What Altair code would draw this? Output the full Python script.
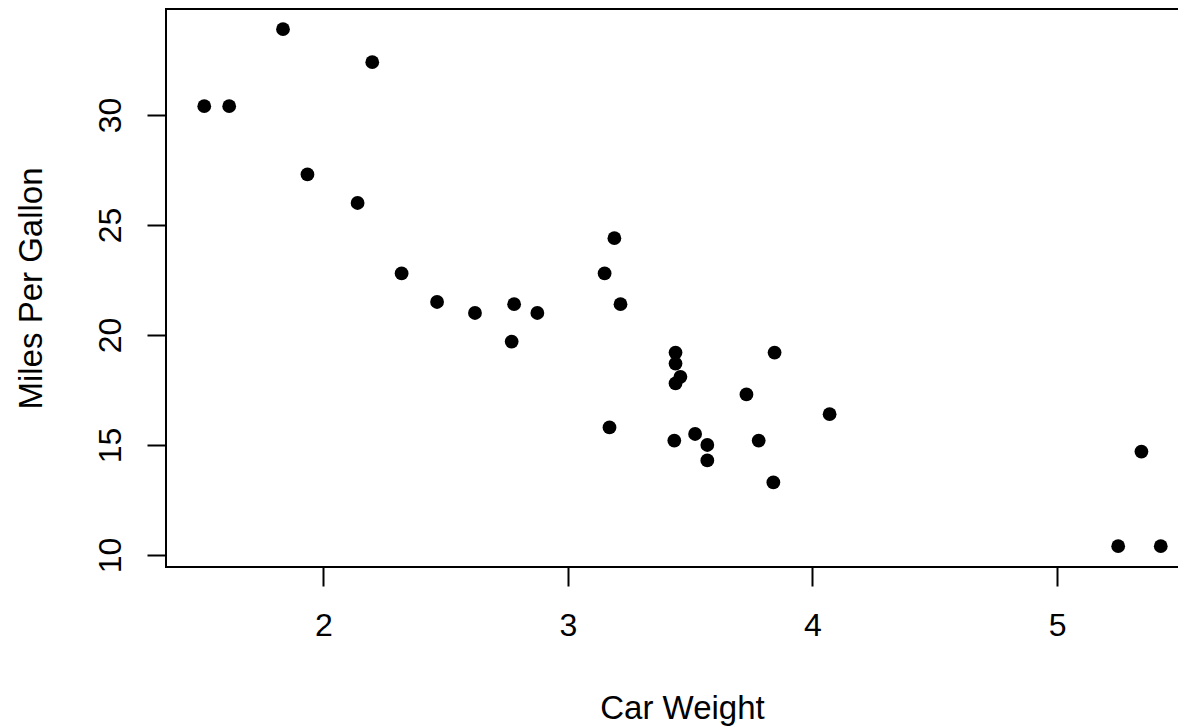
import altair as alt
import pandas as pd

# mtcars: weight (1000 lbs) and miles per gallon
car_weight = [2.620, 2.875, 2.320, 3.215, 3.440, 3.460, 3.570, 3.190, 3.150, 3.440,
              3.440, 4.070, 3.730, 3.780, 5.250, 5.424, 5.345, 2.200, 1.615, 1.835,
              2.465, 3.520, 3.435, 3.840, 3.845, 1.935, 2.140, 1.513, 3.170, 2.770,
              3.570, 2.780]
mpg = [21.0, 21.0, 22.8, 21.4, 18.7, 18.1, 14.3, 24.4, 22.8, 19.2,
       17.8, 16.4, 17.3, 15.2, 10.4, 10.4, 14.7, 32.4, 30.4, 33.9,
       21.5, 15.5, 15.2, 13.3, 19.2, 27.3, 26.0, 30.4, 15.8, 19.7,
       15.0, 21.4]
x_ticks = [2, 3, 4, 5]
y_ticks = [10, 15, 20, 25, 30]

df = pd.DataFrame({"wt": car_weight, "mpg": mpg})

FONT = "Liberation Sans"
FS = 32
TFS = 33

chart = alt.Chart(df).mark_circle(size=190, color="black", opacity=1).encode(
    x=alt.X("wt:Q",
            scale=alt.Scale(domain=[1.3566, 5.5804], zero=False, nice=False),
            axis=alt.Axis(values=x_ticks, title="Car Weight", format="d",
                          domain=False, grid=False,
                          tickSize=19, tickWidth=2, tickColor="black",
                          labelFont=FONT, labelFontSize=FS, labelColor="black",
                          labelBaseline="top", labelPadding=24,
                          titleFont=FONT, titleFontSize=TFS, titleFontWeight="normal",
                          titleColor="black", titleX=516, titleY=151,
                          titleAlign="center", titleBaseline="alphabetic")),
    y=alt.Y("mpg:Q",
            scale=alt.Scale(domain=[9.4545, 34.818], zero=False, nice=False),
            axis=alt.Axis(values=y_ticks, title="Miles Per Gallon", format="d",
                          domain=False, grid=False,
                          tickSize=19, tickWidth=2, tickColor="black",
                          labelFont=FONT, labelFontSize=FS, labelColor="black",
                          labelAngle=270, labelAlign="center",
                          labelBaseline="alphabetic", labelPadding=27,
                          titleFont=FONT, titleFontSize=TFS, titleFontWeight="normal",
                          titleColor="black", titleAngle=270, titleX=-125,
                          titleY=279, titleAlign="center",
                          titleBaseline="alphabetic")),
).properties(
    width=1033,
    height=558,
    autosize=alt.AutoSizeParams(type="none"),
    padding={"left": 158, "top": 1, "right": -21, "bottom": 160},
    background="white",
).configure_view(
    stroke="black", strokeWidth=2
)

chart.save("out.html", embed_options={"renderer": "svg", "actions": False})
